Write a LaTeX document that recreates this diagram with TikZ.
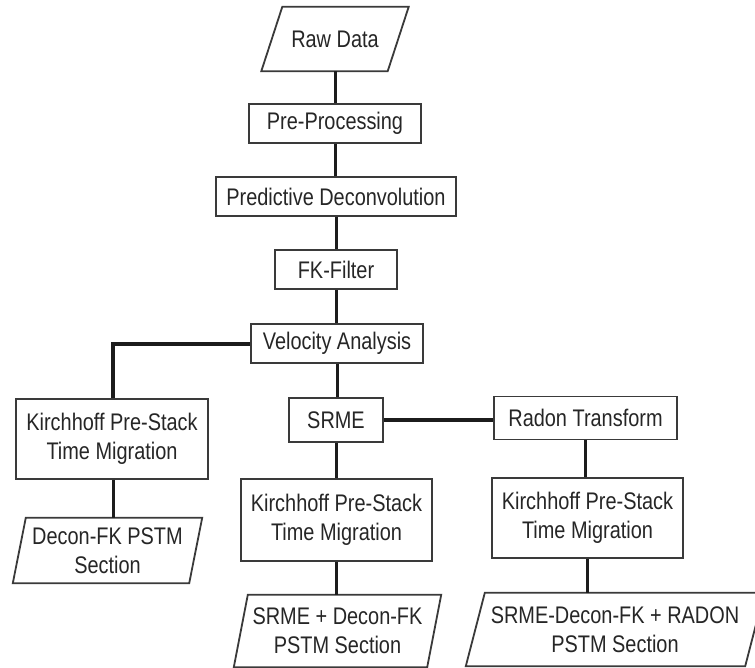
\documentclass[tikz,border=0pt]{standalone}
\usepackage{fontspec}
\setmainfont{Liberation Sans}[FakeStretch=0.83]
\usetikzlibrary{calc}
\definecolor{boxc}{HTML}{3A3A3A}
\definecolor{txtc}{HTML}{262626}
\definecolor{linec}{HTML}{1C1C1C}
\tikzset{
  procbox/.style={draw=boxc, line width=1.8pt, fill=white, inner sep=0pt, text=txtc,
    align=center, font=\fontsize{24}{29}\selectfont},
  iobox/.style={draw=none, inner sep=0pt, text=txtc,
    align=center, font=\fontsize{24}{29}\selectfont},
  ioline/.style={draw=boxc, line width=1.8pt, line join=miter},
  vlink/.style={draw=linec, line width=3pt},
  hlink/.style={draw=linec, line width=4pt},
}
\begin{document}
\begin{tikzpicture}[x=1pt,y=-1pt]
\useasboundingbox[fill=white] (0,0) rectangle (755,668);

% nodes
\node[iobox, minimum width=126pt, minimum height=64pt] (raw) at (335,39) {Raw Data};
\node[procbox, minimum width=172pt, minimum height=39pt] (pre) at (335,123.5) {Pre-Processing};
\node[procbox, minimum width=240pt, minimum height=39pt] (pdec) at (336,196.5) {Predictive Deconvolution};
\node[procbox, minimum width=122pt, minimum height=39pt] (fk) at (336,269.5) {FK-Filter};
\node[procbox, minimum width=172pt, minimum height=39pt] (vel) at (337,343.5) {Velocity Analysis};
\node[procbox, minimum width=94pt, minimum height=44pt] (srme) at (336,420) {SRME};
\node[procbox, minimum width=183pt, minimum height=43pt] (radon) at (585.5,418) {Radon Transform};
\node[procbox, minimum width=192pt, minimum height=80pt] (kl) at (112,439) {Kirchhoff Pre-Stack\\Time Migration};
\node[procbox, minimum width=191pt, minimum height=82pt] (km) at (336.5,520) {Kirchhoff Pre-Stack\\Time Migration};
\node[procbox, minimum width=191pt, minimum height=80pt] (kr) at (587.5,518) {Kirchhoff Pre-Stack\\Time Migration};
\node[iobox, minimum width=176pt, minimum height=65pt] (pl) at (107.5,550.5) {Decon-FK PSTM\\Section};
\node[iobox, minimum width=193pt, minimum height=72pt] (pm) at (337.5,631) {SRME + Decon-FK\\PSTM Section};
\node[iobox, minimum width=279pt, minimum height=73pt] (pr) at (615,629.5) {SRME-Decon-FK + RADON\\PSTM Section};

% parallelogram outlines
\draw[ioline] ([xshift=10.5pt]raw.north west) -- ([xshift=10.5pt]raw.north east)
  -- ([xshift=-10.5pt]raw.south east) -- ([xshift=-10.5pt]raw.south west) -- cycle;
\draw[ioline] ([xshift=6.5pt]pl.north west) -- ([xshift=6.5pt]pl.north east)
  -- ([xshift=-6.5pt]pl.south east) -- ([xshift=-6.5pt]pl.south west) -- cycle;
\draw[ioline] ([xshift=7pt]pm.north west) -- ([xshift=7pt]pm.north east)
  -- ([xshift=-7pt]pm.south east) -- ([xshift=-7pt]pm.south west) -- cycle;
\draw[ioline] ([xshift=9.5pt]pr.north west) -- ([xshift=9.5pt]pr.north east)
  -- ([xshift=-9.5pt]pr.south east) -- ([xshift=-9.5pt]pr.south west) -- cycle;

% connectors
\draw[vlink] (raw.south) -- (raw.south |- pre.north);
\draw[vlink] (pre.south) -- (pre.south |- pdec.north);
\draw[vlink] (pdec.south) -- (pdec.south |- fk.north);
\draw[vlink] (fk.south) -- (fk.south |- vel.north);
\draw[vlink] (vel.south) -- (vel.south |- srme.north);
\draw[vlink] (srme.south) -- (srme.south |- km.north);
\draw[vlink] (km.south) -- (km.south |- pm.north);
\draw[hlink] (srme.east) -- (srme.east -| radon.west);
\draw[vlink] (radon.south) -- (radon.south |- kr.north);
\draw[vlink] (kr.south) -- (kr.south |- pr.north);
\coordinate (lc) at ($(kl.north)+(1pt,0)$);
\draw[hlink, line join=miter] (vel.west) -| (lc);
\draw[vlink] (lc |- kl.south) -- (lc |- pl.north);
\end{tikzpicture}
\end{document}
